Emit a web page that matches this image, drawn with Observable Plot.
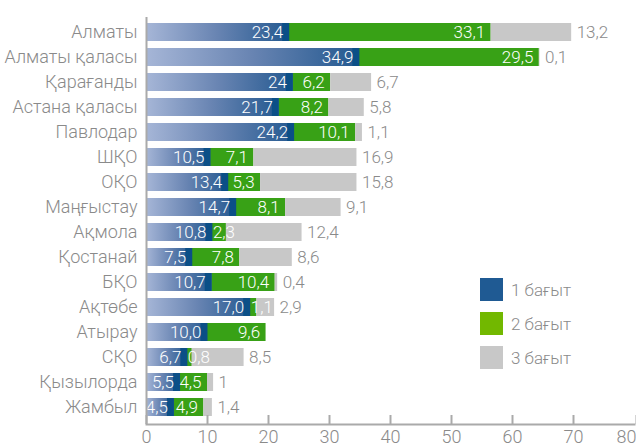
<!DOCTYPE html>
<html><head><meta charset="utf-8">
<script src="https://cdn.jsdelivr.net/npm/d3@7"></script>
<script src="https://cdn.jsdelivr.net/npm/@observablehq/plot@0.6"></script>
<style>
body{margin:0;background:#fff;}
#wrap{position:relative;width:636px;height:447px;overflow:hidden;}
#legend{position:absolute;left:480px;top:278px;}
.li{display:flex;align-items:center;height:23px;margin-bottom:11px;font-family:Roboto,"DejaVu Sans",sans-serif;font-weight:300;font-size:17px;color:#8a8a8a;}
.sw{width:23px;height:23px;margin-right:8px;}
svg text{font-weight:300;}
</style></head><body><div id="wrap"></div>
<script>
const regions = ["Алматы","Алматы қаласы","Қарағанды","Астана қаласы","Павлодар","ШҚО","ОҚО","Маңғыстау","Ақмола","Қостанай","БҚО","Ақтөбе","Атырау","СҚО","Қызылорда","Жамбыл"];
const seriesNames = ["1 бағыт","2 бағыт","3 бағыт"];
const dir1 = [23.4,34.9,24,21.7,24.2,10.5,13.4,14.7,10.8,7.5,10.7,17.0,10.0,6.7,5.5,4.5];
const dir2 = [33.1,29.5,6.2,8.2,10.1,7.1,5.3,8.1,2.3,7.8,10.4,1.1,9.6,0.8,4.5,4.9];
const dir3 = [13.2,0.1,6.7,5.8,1.1,16.9,15.8,9.1,12.4,8.6,0.4,2.9,0,8.5,1,1.4];
const lab1 = ["23,4","34,9","24","21,7","24,2","10,5","13,4","14,7","10,8","7,5","10,7","17,0","10,0","6,7","5,5","4,5"];
const lab2 = ["33,1","29,5","6,2","8,2","10,1","7,1","5,3","8,1","2,3","7,8","10,4","1,1","9,6","0,8","4,5","4,9"];
const lab3 = ["13,2","0,1","6,7","5,8","1,1","16,9","15,8","9,1","12,4","8,6","0,4","2,9","","8,5","1","1,4"];
const xTicks = [0,10,20,30,40,50,60,70];
const xLastTick = [80];

const FONT = 'Roboto,"DejaVu Sans",sans-serif';
const data = [];
const vals = [dir1, dir2, dir3], labs = [lab1, lab2, lab3];
regions.forEach((r, i) => {
  seriesNames.forEach((s, k) => data.push({region: r, series: s, k, value: vals[k][i], label: labs[k][i]}));
});
const rows1 = data.filter(d => d.k === 0);

const plot = Plot.plot({
  width: 636, height: 447,
  marginLeft: 146, marginRight: 2, marginTop: 17, marginBottom: 23,
  style: {fontFamily: FONT, fontSize: "17px", color: "#8a8a8a", background: "#fff"},
  x: {domain: [0, 80], label: null},
  y: {domain: regions, range: [18.5, 419.2], paddingInner: 0.3, paddingOuter: 0.15, label: null},
  color: {domain: seriesNames, range: ["url(#blueGrad)", "#38a116", "#c8c8c8"]},
  marks: [
    Plot.barX(data, Plot.stackX({x: "value", y: "region", fill: "series"})),
    Plot.tickX(rows1, {x: "value", y: "region", stroke: "#0b4f87", strokeWidth: 7, dx: -3.5}),
    Plot.text(data, Plot.stackX2({x: "value", y: "region",
      text: d => (d.k === 0 || (d.k === 1 && d.value >= 3)) ? d.label : "",
      textAnchor: "end", dx: -6, fill: "white", fontSize: 17})),
    Plot.text(data, Plot.stackX1({x: "value", y: "region",
      text: d => (d.k === 1 && d.value < 3) ? d.label : "",
      textAnchor: "start", dx: 0.5, fill: "white", fontSize: 17})),
    Plot.text(data, Plot.stackX2({x: "value", y: "region",
      text: d => d.k === 2 ? d.label : "",
      textAnchor: "start", dx: 5, fill: "#8a8a8a", fontSize: 17})),
    Plot.ruleX([0], {stroke: "#aaa", strokeWidth: 2}),
    Plot.frame({anchor: "bottom", stroke: "#aaa", strokeWidth: 2}),
    Plot.axisX({ticks: xTicks, tickSize: -9, tickPadding: 15, stroke: "#aaa", strokeWidth: 2, fill: "#8a8a8a", fontSize: 18}),
    Plot.axisX({ticks: xLastTick, tickSize: -9, tickPadding: 15, stroke: "#aaa", strokeWidth: 2, fill: "#8a8a8a", fontSize: 18, textAnchor: "end", dx: 2}),
    Plot.axisY({tickSize: 0, tickPadding: 9, fill: "#8a8a8a", fontSize: 18})
  ]
});
const svgNS = "http://www.w3.org/2000/svg";
const defs = document.createElementNS(svgNS, "defs");
defs.innerHTML = '<linearGradient id="blueGrad" x1="0" x2="1" y1="0" y2="0"><stop offset="0" stop-color="#a6b6d7"/><stop offset="0.5" stop-color="#6884b2"/><stop offset="1" stop-color="#245990"/></linearGradient>';
plot.insertBefore(defs, plot.firstChild);
const wrap = document.getElementById("wrap");
wrap.appendChild(plot);
const leg = document.createElement("div");
leg.id = "legend";
const legColors = ["#1f5a93", "#72b800", "#c8c8c8"];
seriesNames.forEach((s, k) => {
  const li = document.createElement("div"); li.className = "li";
  const sw = document.createElement("div"); sw.className = "sw"; sw.style.background = legColors[k];
  li.appendChild(sw); li.appendChild(document.createTextNode(s));
  leg.appendChild(li);
});
wrap.appendChild(leg);
</script></body></html>
